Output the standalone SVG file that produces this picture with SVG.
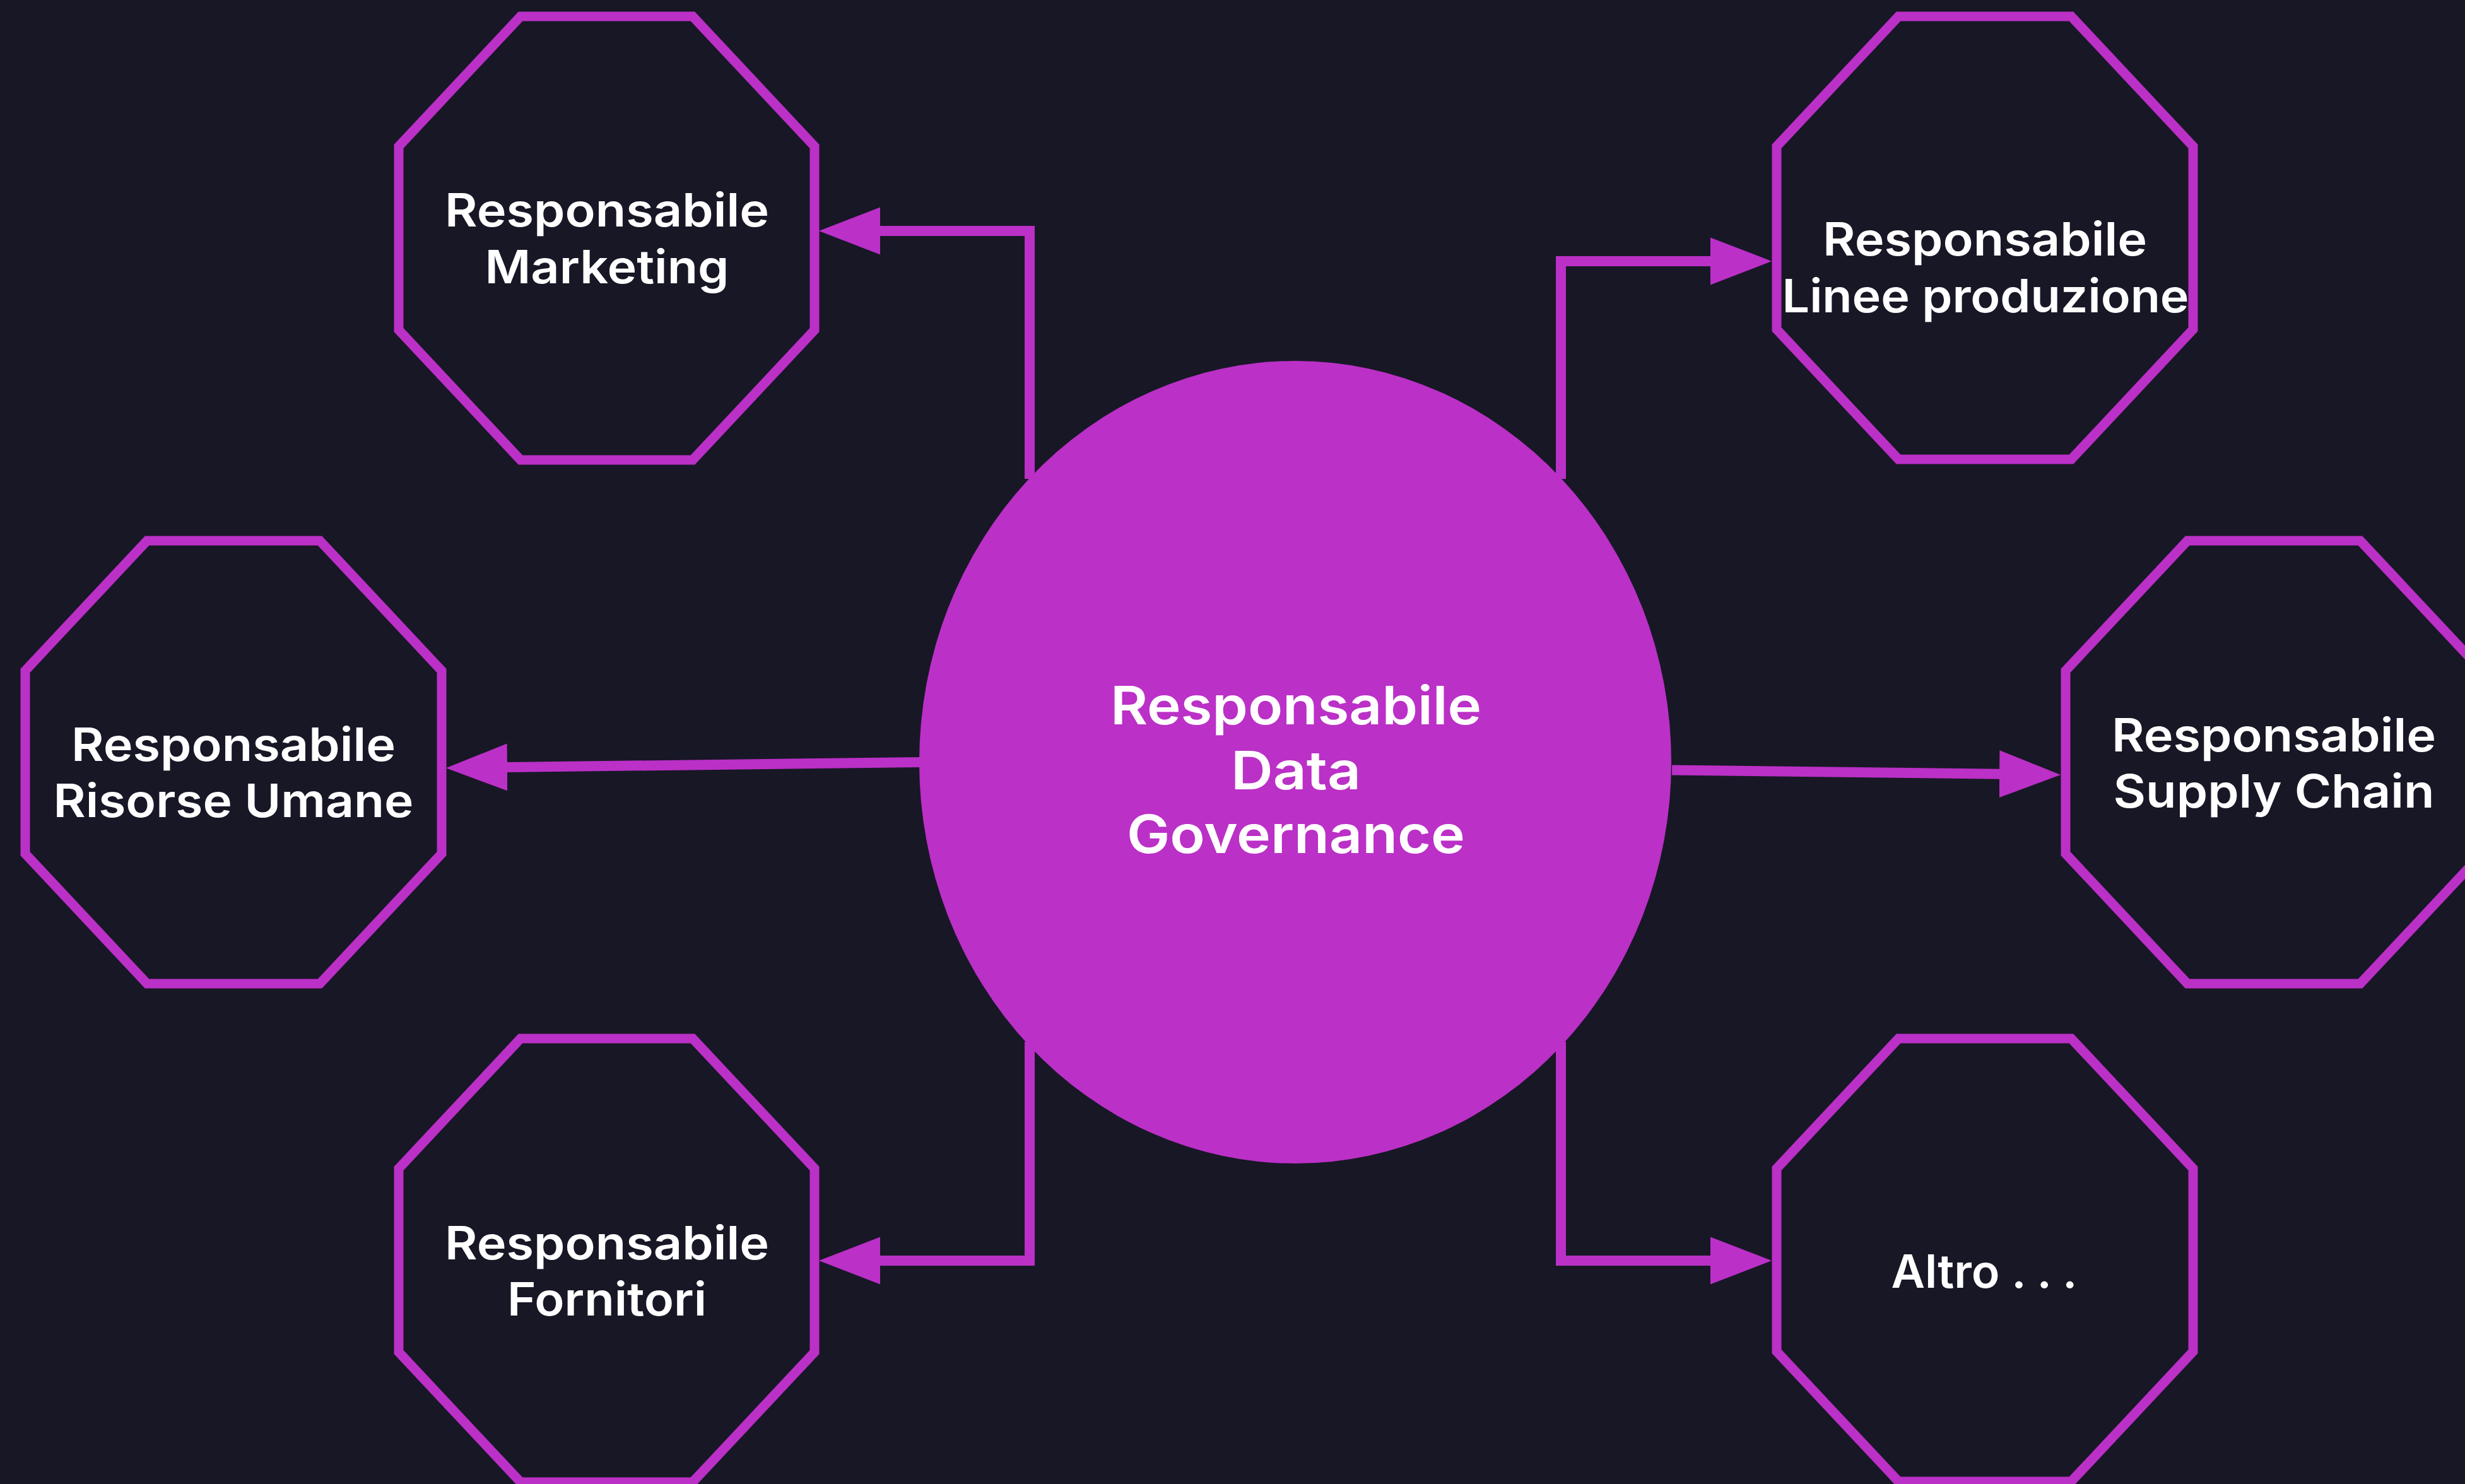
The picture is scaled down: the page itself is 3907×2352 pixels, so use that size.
<svg xmlns="http://www.w3.org/2000/svg" width="3907" height="2352" viewBox="0 0 3907 2352">
<style>
.bg{fill:#181726}
.oct{fill:#181726;stroke:#bb30c7;stroke-width:15;stroke-linejoin:miter}
.hub{fill:#bb30c7}
.edge{fill:none;stroke:#bb30c7;stroke-width:16;stroke-linecap:butt;stroke-linejoin:miter}
.lbl{fill:#ffffff;font-family:Inter,"Open Sans","Liberation Sans",sans-serif;font-weight:600;font-size:73px;text-anchor:middle}
.hubl{font-size:84px}
</style>
<defs>
<marker id="ah" markerUnits="userSpaceOnUse" markerWidth="97" markerHeight="76" refX="1" refY="37.5" orient="auto" viewBox="0 0 97 75">
<path d="M0,0 L97,37.5 L0,75 z" fill="#bb30c7"/>
</marker>
</defs>
<rect class="bg" x="0" y="0" width="3907" height="2352"/>
<g id="connectors">
<path class="edge" d="M1632,759 V366 H1394" marker-end="url(#ah)"/>
<path class="edge" d="M2474,759 V414 H2712" marker-end="url(#ah)"/>
<path class="edge" d="M1458,1208 L803,1216" marker-end="url(#ah)"/>
<path class="edge" d="M2650,1220.5 L3170,1226.8" marker-end="url(#ah)"/>
<path class="edge" d="M1632,1651 V1998 H1394" marker-end="url(#ah)"/>
<path class="edge" d="M2474,1651 V1998 H2712" marker-end="url(#ah)"/>
</g>
<g id="node-hub">
<ellipse class="hub" cx="2053" cy="1208" rx="596" ry="636"/>
<text class="lbl hubl" x="2054" y="1148" textLength="588" lengthAdjust="spacingAndGlyphs">Responsabile</text>
<text class="lbl hubl" x="2054" y="1251" textLength="206" lengthAdjust="spacingAndGlyphs">Data</text>
<text class="lbl hubl" x="2054" y="1352" textLength="536" lengthAdjust="spacingAndGlyphs">Governance</text>
</g>
<g id="node-marketing">
<polygon class="oct" points="825,26 1098,26 1291,232 1291,523 1098,729 825,729 632,523 632,232"/>
<text class="lbl" x="962" y="359" textLength="514" lengthAdjust="spacingAndGlyphs">Responsabile</text>
<text class="lbl" x="962" y="449" textLength="387" lengthAdjust="spacingAndGlyphs">Marketing</text>
</g>
<g id="node-risorse">
<polygon class="oct" points="233,857 507,857 700,1063 700,1353 507,1559 233,1559 40,1353 40,1063"/>
<text class="lbl" x="370" y="1206" textLength="514" lengthAdjust="spacingAndGlyphs">Responsabile</text>
<text class="lbl" x="370" y="1295" textLength="571" lengthAdjust="spacingAndGlyphs">Risorse Umane</text>
</g>
<g id="node-fornitori">
<polygon class="oct" points="825,1646 1098,1646 1291,1852 1291,2143 1098,2349 825,2349 632,2143 632,1852"/>
<text class="lbl" x="962" y="1996" textLength="514" lengthAdjust="spacingAndGlyphs">Responsabile</text>
<text class="lbl" x="962" y="2085" textLength="316" lengthAdjust="spacingAndGlyphs">Fornitori</text>
</g>
<g id="node-linee">
<polygon class="oct" points="3009,26 3283,26 3476,232 3476,522 3283,728 3009,728 2816,522 2816,232"/>
<text class="lbl" x="3146" y="405" textLength="514" lengthAdjust="spacingAndGlyphs">Responsabile</text>
<text class="lbl" x="3147" y="495" textLength="645" lengthAdjust="spacingAndGlyphs">Linee produzione</text>
</g>
<g id="node-supply">
<polygon class="oct" points="3467,857 3741,857 3934,1063 3934,1353 3741,1559 3467,1559 3274,1353 3274,1063"/>
<text class="lbl" x="3604" y="1191" textLength="514" lengthAdjust="spacingAndGlyphs">Responsabile</text>
<text class="lbl" x="3604" y="1280" textLength="509" lengthAdjust="spacingAndGlyphs">Supply Chain</text>
</g>
<g id="node-altro">
<polygon class="oct" points="3009,1646 3283,1646 3476,1852 3476,2142 3283,2348 3009,2348 2816,2142 2816,1852"/>
<text class="lbl" x="3145" y="2041" textLength="295" lengthAdjust="spacingAndGlyphs">Altro . . .</text>
</g>
</svg>
